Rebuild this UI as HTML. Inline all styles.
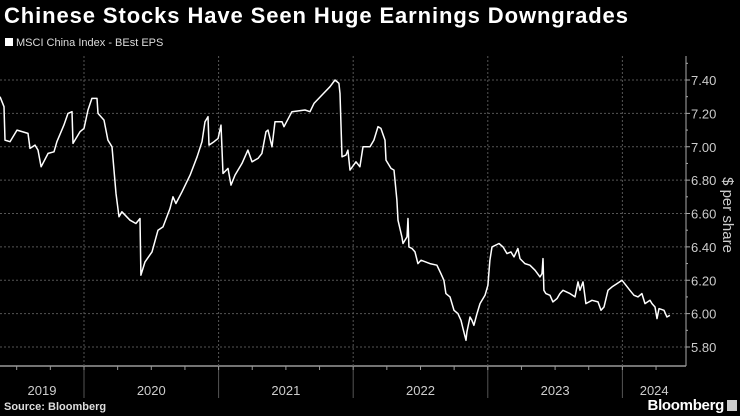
<!DOCTYPE html>
<html><head><meta charset="utf-8"><style>
html,body{margin:0;padding:0;background:#000;}
body{width:740px;height:416px;overflow:hidden;font-family:"Liberation Sans",sans-serif;color:#fff;position:relative;}
.title{position:absolute;left:4px;top:3px;font-size:22px;font-weight:bold;letter-spacing:0.9px;}
.legend{position:absolute;left:5px;top:37px;font-size:11px;color:#ddd;}
.legend span.sw{display:inline-block;width:8px;height:8px;background:#fff;margin-right:3px;}
.source{position:absolute;left:4px;top:401px;font-size:11px;font-weight:bold;color:#ddd;}
.brand{position:absolute;right:16px;top:397px;font-size:15px;font-weight:bold;color:#fff;letter-spacing:-0.3px;}
.brand-icon{position:absolute;right:3px;top:400px;width:10px;height:11px;background:#ccc;}
svg{position:absolute;left:0;top:0;}
</style></head><body>
<div class="title">Chinese Stocks Have Seen Huge Earnings Downgrades</div>
<div class="legend"><span class="sw"></span>MSCI China Index - BEst EPS</div>
<svg id="chart" width="740" height="416"></svg>
<div class="source">Source: Bloomberg</div>
<div class="brand">Bloomberg</div>
<div class="brand-icon"></div>
<script>
const dates = [2019.376,2019.406,2019.413,2019.450,2019.502,2019.584,2019.599,2019.636,2019.658,2019.681,2019.733,2019.777,2019.799,2019.851,2019.881,2019.911,2019.918,2019.970,2020.000,2020.030,2020.059,2020.097,2020.104,2020.149,2020.178,2020.208,2020.238,2020.260,2020.282,2020.342,2020.386,2020.416,2020.423,2020.453,2020.505,2020.550,2020.587,2020.639,2020.661,2020.683,2020.728,2020.788,2020.840,2020.877,2020.899,2020.921,2020.929,2020.966,2020.996,2021.018,2021.033,2021.070,2021.092,2021.122,2021.174,2021.218,2021.248,2021.293,2021.322,2021.352,2021.367,2021.397,2021.419,2021.471,2021.486,2021.545,2021.642,2021.679,2021.709,2021.768,2021.828,2021.865,2021.894,2021.902,2021.917,2021.946,2021.961,2021.976,2022.021,2022.050,2022.073,2022.125,2022.154,2022.184,2022.206,2022.236,2022.244,2022.281,2022.303,2022.325,2022.333,2022.362,2022.370,2022.400,2022.407,2022.414,2022.437,2022.459,2022.481,2022.504,2022.570,2022.622,2022.652,2022.674,2022.689,2022.719,2022.749,2022.778,2022.801,2022.816,2022.838,2022.845,2022.868,2022.882,2022.897,2022.920,2022.942,2022.979,2023.001,2023.016,2023.031,2023.083,2023.113,2023.143,2023.172,2023.195,2023.224,2023.239,2023.276,2023.313,2023.351,2023.388,2023.403,2023.410,2023.417,2023.432,2023.462,2023.484,2023.514,2023.536,2023.559,2023.611,2023.648,2023.670,2023.685,2023.707,2023.729,2023.774,2023.819,2023.841,2023.863,2023.893,2023.923,2023.960,2023.997,2024.027,2024.056,2024.086,2024.116,2024.145,2024.168,2024.205,2024.220,2024.242,2024.257,2024.272,2024.309,2024.331,2024.353];
const values = [7.30,7.24,7.04,7.03,7.10,7.08,6.99,7.01,6.98,6.88,6.96,6.97,7.03,7.13,7.20,7.21,7.02,7.09,7.11,7.22,7.29,7.29,7.20,7.16,7.04,7.00,6.72,6.58,6.61,6.56,6.54,6.57,6.23,6.31,6.37,6.50,6.52,6.63,6.70,6.66,6.73,6.83,6.94,7.03,7.15,7.18,7.01,7.03,7.05,7.13,6.84,6.87,6.77,6.83,6.90,6.98,6.91,6.93,6.96,7.09,7.10,7.00,7.15,7.15,7.12,7.21,7.22,7.21,7.26,7.31,7.36,7.40,7.38,7.32,6.94,6.95,6.98,6.86,6.91,6.88,7.00,7.00,7.04,7.12,7.11,7.04,6.92,6.87,6.86,6.68,6.56,6.46,6.42,6.46,6.57,6.40,6.39,6.37,6.30,6.32,6.30,6.29,6.24,6.20,6.12,6.10,6.02,6.00,5.96,5.91,5.84,5.89,5.98,5.96,5.93,6.00,6.06,6.11,6.17,6.32,6.40,6.42,6.40,6.36,6.37,6.34,6.39,6.33,6.30,6.29,6.26,6.22,6.24,6.33,6.14,6.12,6.11,6.07,6.09,6.12,6.14,6.12,6.10,6.19,6.14,6.19,6.06,6.08,6.07,6.02,6.04,6.14,6.16,6.18,6.20,6.17,6.14,6.11,6.10,6.12,6.06,6.08,6.06,6.04,5.97,6.03,6.02,5.98,5.99];
const yTicks = [5.80,6.00,6.20,6.40,6.60,6.80,7.00,7.20,7.40];
const yearLabels = ["2019","2020","2021","2022","2023","2024"];

const NS="http://www.w3.org/2000/svg";
const svg=document.getElementById('chart');
const X0=0, XR=686, YB=366, YT=56;
const t0=2019.376, pxPerYear=134.6;
const xs=t=>X0+(t-t0)*pxPerYear;
const ys=v=>80+(7.40-v)*(267/1.6);
function mk(tag,attrs){const e=document.createElementNS(NS,tag);for(const k in attrs)e.setAttribute(k,attrs[k]);svg.appendChild(e);return e;}

yTicks.forEach(v=>{
  const y=ys(v);
  const g=mk('line',{x1:0,x2:XR,y1:y,y2:y,stroke:'#555','stroke-width':1,'stroke-dasharray':'2,2'});
  
  
  const tk=mk('line',{x1:XR,x2:XR+4,y1:y,y2:y,stroke:'#aaa','stroke-width':1});
  
  
  const tx=mk('text',{x:XR+5,y:y+5,fill:'#ccc','font-size':13,'font-family':'Liberation Sans, sans-serif'});
  tx.textContent=v.toFixed(2);
  
  
});
yTicks.forEach(v=>{const y=ys(v+0.1);if(y>YT){const m=mk('line',{x1:XR,x2:XR+2,y1:y,y2:y,stroke:'#aaa'});

}});

const axY=mk('line',{x1:XR,x2:XR,y1:YT,y2:YB,stroke:'#aaa','stroke-width':1});


const axX=mk('line',{x1:0,x2:XR,y1:YB,y2:YB,stroke:'#999','stroke-width':1.5});



for(let yr=2020;yr<=2024;yr++){
  const x=xs(yr);
  const v=mk('line',{x1:x,x2:x,y1:YT,y2:YB,stroke:'#555','stroke-dasharray':'2,2'});
  
  
  const s=mk('line',{x1:x,x2:x,y1:YB,y2:YB+32,stroke:'#555'});
  
  
}
for(let q=2019.5;q<2024.5;q+=0.25){const x=xs(q);if(x>0&&x<XR){const m=mk('line',{x1:x,x2:x,y1:YB,y2:YB+4,stroke:'#999'});

}}

yearLabels.forEach((lab,i)=>{
  const yr=2019+i;
  const a=Math.max(0,xs(yr)), b=Math.min(XR,xs(yr+1));
  const t=mk('text',{x:(a+b)/2,y:395,fill:'#ccc','font-size':13,'text-anchor':'middle','font-family':'Liberation Sans, sans-serif'});
  t.textContent=lab;
  
  
});

const yt=mk('text',{x:0,y:0,fill:'#ccc','font-size':15,'text-anchor':'middle',transform:'translate(723,215) rotate(90)','font-family':'Liberation Sans, sans-serif'});
yt.textContent='$ per share';



const d=dates.map((t,i)=>(i?'L':'M')+xs(t).toFixed(1)+','+ys(values[i]).toFixed(1)).join(' ');
const line=mk('path',{d:d,fill:'none',stroke:'#fff','stroke-width':1.5,'stroke-linejoin':'round'});


</script>
</body></html>
